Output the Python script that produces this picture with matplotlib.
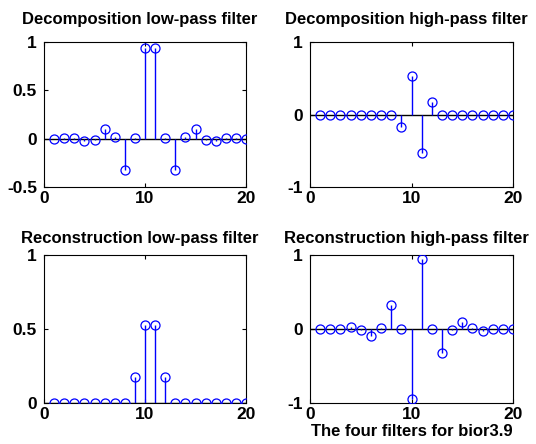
import numpy as np
import matplotlib
matplotlib.use("Agg")
import matplotlib.pyplot as plt

plt.rcParams['font.family'] = ['Liberation Sans', 'DejaVu Sans']
plt.rcParams['font.weight'] = 'bold'

# bior3.9 filters (20 taps)
n = np.arange(1, 21)
lo_d = [-0.0007, 0.0020, 0.0051, -0.0206, -0.0141, 0.0991, 0.0123, -0.3202, 0.0021, 0.9421,
        0.9421, 0.0021, -0.3202, 0.0123, 0.0991, -0.0141, -0.0206, 0.0051, 0.0020, -0.0007]
hi_d = [0, 0, 0, 0, 0, 0, 0, 0, -0.1768, 0.5303,
        -0.5303, 0.1768, 0, 0, 0, 0, 0, 0, 0, 0]
lo_r = [0, 0, 0, 0, 0, 0, 0, 0, 0.1768, 0.5303,
        0.5303, 0.1768, 0, 0, 0, 0, 0, 0, 0, 0]
hi_r = [-0.0007, -0.0020, 0.0051, 0.0206, -0.0141, -0.0991, 0.0123, 0.3202, 0.0021, -0.9421,
        0.9421, -0.0021, -0.3202, -0.0123, 0.0991, 0.0141, -0.0206, -0.0051, 0.0020, 0.0007]

titles = ['Decomposition low-pass filter', 'Decomposition high-pass filter',
          'Reconstruction low-pass filter', 'Reconstruction high-pass filter']
ylims = [(-0.5, 1), (-1, 1), (0, 1), (-1, 1)]
yticks = [[-0.5, 0, 0.5, 1], [-1, 0, 1], [0, 0.5, 1], [-1, 0, 1]]
ytl = [['-0.5', '0', '0.5', '1'], ['-1', '0', '1'], ['0', '0.5', '1'], ['-1', '0', '1']]

W, H = 536, 444
fig = plt.figure(figsize=(W / 100, H / 100), dpi=100)
# pixel boxes: left, top, right, bottom
boxes = [(44, 42, 246, 187), (310, 42, 513, 187),
         (44, 255, 246, 403), (310, 255, 513, 403)]
data = [lo_d, hi_d, lo_r, hi_r]

for i in range(4):
    l, t, r, b = boxes[i]
    ax = fig.add_axes([l / W, 1 - b / H, (r - l) / W, (b - t) / H])
    y = data[i]
    ax.axhline(0, color='black', lw=1, zorder=1)
    ax.vlines(n, 0, y, color='blue', lw=1, zorder=2)
    ax.plot(n, y, 'o', mfc='none', mec='blue', ms=6.5, mew=0.9, zorder=3)
    ax.set_xlim(0, 20)
    ax.set_ylim(*ylims[i])
    ax.set_xticks([0, 10, 20])
    ax.set_yticks(yticks[i])
    ax.set_yticklabels(ytl[i])
    ax.tick_params(direction='in', length=3, top=True, right=True, labelsize=12.5)
    ax.tick_params(axis='y', pad=5)
    ax.tick_params(axis='x', pad=3)
    for lab in ax.get_xticklabels() + ax.get_yticklabels():
        lab.set_fontweight('bold')
    pad = 13 if i < 2 else 9
    ax.set_title(titles[i], fontsize=12, fontweight='bold', pad=pad, x=0.475)
    if i == 3:
        ax.set_xlabel('The four filters for bior3.9', fontsize=12, fontweight='bold', labelpad=1)

fig.savefig('out.png', dpi=100)
